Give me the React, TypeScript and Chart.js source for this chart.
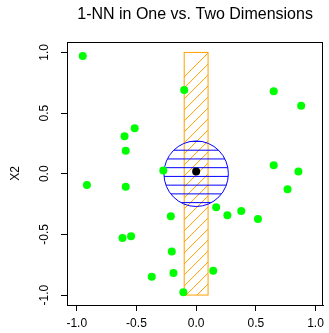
import React, { useEffect, useRef } from "react";
import { Chart, registerables } from "chart.js";

Chart.register(...registerables);

// ---- data ----
const greenX = [-0.95, -0.1, 0.65, 0.88, -0.515, -0.6, -0.59, -0.275, 0.65, 0.857, -0.915, -0.59, 0.766, 0.168, 0.262, 0.378, 0.518, -0.212, -0.617, -0.545, -0.204, -0.372, -0.19, 0.143, -0.107];
const greenY = [0.97, 0.69, 0.68, 0.56, 0.375, 0.31, 0.19, 0.027, 0.07, 0.018, -0.093, -0.108, -0.128, -0.276, -0.342, -0.307, -0.373, -0.35, -0.53, -0.515, -0.64, -0.85, -0.818, -0.8, -0.977];
const targetX = [0];
const targetY = [0.018];
const xTicks = [-1, -0.5, 0, 0.5, 1];
const yTicks = [-1, -0.5, 0, 0.5, 1];
const rectX = [-0.1, 0.1];
const rectY = [-1, 1];
const circleCenter = [0, 0];
const circleRadius = 0.27;
const circleHatchStart = -0.238;
const circleHatchStep = 0.072;

const GREEN = "#00FF00";
const ORANGE = "#FFA000";
const BLUE = "#0000FF";
const FONT = "'Liberation Sans', Arial, Helvetica, sans-serif";

const shapesPlugin = {
  id: "shapes",
  beforeDatasetsDraw(chart: any) {
    const { ctx, scales } = chart;
    const xs = scales.x;
    const ys = scales.y;
    // hatched rectangle
    const x0 = xs.getPixelForValue(rectX[0]);
    const x1 = xs.getPixelForValue(rectX[1]);
    const y0 = ys.getPixelForValue(rectY[1]);
    const y1 = ys.getPixelForValue(rectY[0]);
    const w = x1 - x0;
    ctx.save();
    ctx.beginPath();
    ctx.rect(x0, y0, w, y1 - y0);
    ctx.clip();
    ctx.strokeStyle = ORANGE;
    ctx.lineWidth = 1;
    ctx.beginPath();
    for (let yy = y1; yy >= y0 - 2; yy -= 11) {
      ctx.moveTo(x0, yy + w);
      ctx.lineTo(x1, yy);
    }
    ctx.stroke();
    ctx.restore();
    ctx.save();
    ctx.strokeStyle = ORANGE;
    ctx.lineWidth = 1;
    ctx.strokeRect(x0, y0, w, y1 - y0);
    ctx.restore();

    // hatched circle
    const cx = xs.getPixelForValue(circleCenter[0]);
    const cy = ys.getPixelForValue(circleCenter[1]);
    const rx = Math.abs(xs.getPixelForValue(circleCenter[0] + circleRadius) - cx);
    const ry = Math.abs(ys.getPixelForValue(circleCenter[1] + circleRadius) - cy);
    ctx.save();
    ctx.beginPath();
    ctx.ellipse(cx, cy, rx, ry, 0, 0, Math.PI * 2);
    ctx.clip();
    ctx.strokeStyle = BLUE;
    ctx.lineWidth = 1;
    ctx.beginPath();
    for (let v = circleHatchStart; v < circleCenter[1] + circleRadius; v += circleHatchStep) {
      const py = ys.getPixelForValue(v);
      ctx.moveTo(cx - rx - 2, py);
      ctx.lineTo(cx + rx + 2, py);
    }
    ctx.stroke();
    ctx.restore();
    ctx.save();
    ctx.strokeStyle = BLUE;
    ctx.lineWidth = 1;
    ctx.beginPath();
    ctx.ellipse(cx, cy, rx, ry, 0, 0, Math.PI * 2);
    ctx.stroke();
    ctx.restore();
  },
  afterDatasetsDraw(chart: any) {
    const { ctx, chartArea } = chart;
    ctx.save();
    ctx.strokeStyle = "#000";
    ctx.lineWidth = 1;
    ctx.strokeRect(
      Math.round(chartArea.left) + 0.5,
      Math.round(chartArea.top) + 0.5,
      Math.round(chartArea.right - chartArea.left) - 1,
      Math.round(chartArea.bottom - chartArea.top)
    );
    ctx.restore();
  },
};

export default function App() {
  const ref = useRef<HTMLCanvasElement | null>(null);
  useEffect(() => {
    if (!ref.current) return;
    const chart = new Chart(ref.current, {
      type: "scatter",
      data: {
        datasets: [
          {
            data: greenX.map((x, i) => ({ x, y: greenY[i] })),
            backgroundColor: GREEN,
            borderWidth: 0,
            pointRadius: 4,
          },
          {
            data: targetX.map((x, i) => ({ x, y: targetY[i] })),
            backgroundColor: "#000",
            borderWidth: 0,
            pointRadius: 4,
          },
        ],
      },
      options: {
        animation: false,
        responsive: false,
        events: [],
        layout: { padding: { left: 0, right: 2, top: 0, bottom: 0 } },
        plugins: {
          legend: { display: false },
          tooltip: { enabled: false },
          title: {
            display: true,
            text: "1-NN in One vs. Two Dimensions",
            fullSize: false,
            color: "#000",
            font: { family: FONT, size: 16, weight: "normal", lineHeight: 1.2 },
            padding: { top: 5, bottom: 17.8 },
          },
        },
        scales: {
          x: {
            type: "linear",
            min: -1.082,
            max: 1.064,
            afterBuildTicks: (s: any) => {
              s.ticks = xTicks.map((v) => ({ value: v }));
            },
            afterFit: (s: any) => {
              s.height = 28;
            },
            grid: { drawOnChartArea: false, drawTicks: true, tickLength: 6, color: "#000" },
            border: { display: true, color: "#000" },
            ticks: {
              autoSkip: false,
              maxRotation: 0,
              padding: 5,
              color: "#000",
              font: { family: FONT, size: 12 },
              callback: (v: any) => Number(v).toFixed(1),
            },
          },
          y: {
            type: "linear",
            min: -1.082,
            max: 1.086,
            afterBuildTicks: (s: any) => {
              s.ticks = yTicks.map((v) => ({ value: v }));
            },
            afterFit: (s: any) => {
              s.width = 67;
            },
            title: {
              display: true,
              text: "X2",
              color: "#000",
              font: { family: FONT, size: 12, lineHeight: 1.2 },
              padding: { top: 8, bottom: 0 },
            },
            grid: { drawOnChartArea: false, drawTicks: true, tickLength: 6, color: "#000" },
            border: { display: true, color: "#000" },
            ticks: {
              autoSkip: false,
              minRotation: 90,
              maxRotation: 90,
              crossAlign: "center",
              padding: 6,
              color: "#000",
              font: { family: FONT, size: 12 },
              callback: (v: any) => Number(v).toFixed(1),
            },
          },
        },
      },
      plugins: [shapesPlugin],
    } as any);
    return () => chart.destroy();
  }, []);
  return (
    <div style={{ position: "fixed", left: 0, top: 0, width: 329, height: 333, background: "#fff" }}>
      <canvas ref={ref} width={329} height={333} style={{ display: "block" }} />
    </div>
  );
}
